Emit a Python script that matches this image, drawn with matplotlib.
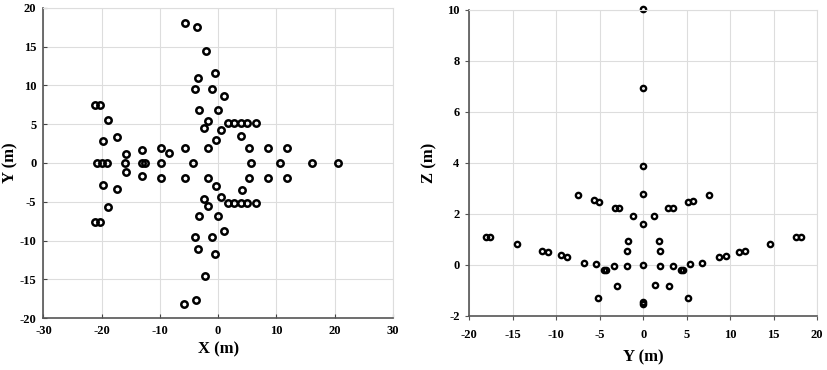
import matplotlib
matplotlib.use("Agg")
from matplotlib import pyplot as plt

# left panel: plan view, X-Y (m)
x_top = [-5.7, -3.7, -2.1, -0.6, -3.4, -4.0, -1.0, 1.0, -3.3, -0.1,
         -1.8, -2.4, 1.7, 2.8, 3.9, 5.0, 6.5, 0.5, -0.3, 4.0,
         -1.7, -5.7, -8.5, -9.8, 5.3, 8.6, 11.8,
         -21.1, -20.2, -18.9, -17.3, -19.8, -15.8, -13.0]
y_top = [18.1, 17.6, 14.5, 11.6, 11.0, 9.5, 9.5, 8.7, 6.8, 6.8,
         5.4, 4.5, 5.1, 5.1, 5.1, 5.1, 5.1, 4.3, 3.0, 3.5,
         1.9, 1.9, 1.3, 1.9, 1.9, 1.9, 1.9,
         7.5, 7.5, 5.6, 3.3, 2.8, 1.2, 1.7]

x_mid = [-20.8, -19.9, -19.0, -16.0, -13.0, -12.6, -9.8, -4.3, 5.6, 10.6, 16.1, 20.6]
y_mid = [0, 0, 0, 0, 0, 0, 0, 0, 0, 0, 0, 0]

x_bot = [-5.8, -3.8, -2.2, -0.6, -3.4, -4.0, -1.0, 1.0, -3.3, -0.1,
         -1.8, -2.4, 1.7, 2.8, 3.9, 5.0, 6.5, 0.5, -0.3, 4.1,
         -1.7, -5.7, -9.8, 5.3, 8.6, 11.8,
         -21.1, -20.2, -18.9, -17.3, -19.8, -15.8, -13.0]
y_bot = [-18.2, -17.7, -14.6, -11.7, -11.1, -9.6, -9.5, -8.8, -6.9, -6.9,
         -5.5, -4.6, -5.2, -5.2, -5.2, -5.2, -5.2, -4.4, -3.0, -3.5,
         -2.0, -2.0, -2.0, -2.0, -2.0, -2.0,
         -7.6, -7.6, -5.7, -3.4, -2.9, -1.2, -1.7]

# right panel: side view, Y-Z (m)
ys = [0, 0, 0, 0, -7.5, 7.6,
      -18.1, -17.6, -14.5, -11.6, -11.0, -9.5, -8.8, -6.8, -5.4, -4.5, -4.3,
      -3.4, -1.9, -0.05, -3.0, -5.2, 0, 0,
      -1.9, -1.7, -1.15, 0, -3.3, -2.8, -5.7, -5.1,
      1.2, 2.9, 3.4, 5.2, 5.75, 1.8, 1.9, 1.9,
      3.4, 4.3, 4.6, 5.4, 6.8, 8.7, 9.5, 11.0, 11.7, 14.6, 17.6, 18.2,
      1.3, 3.0, 5.2]
zs = [10.05, 6.95, 3.87, 2.76, 2.75, 2.75,
      1.08, 1.08, 0.80, 0.52, 0.48, 0.37, 0.29, 0.08, 0.04, -0.21, -0.21,
      -0.05, -0.05, -0.01, -0.85, -1.31, -1.47, -1.53,
      0.52, 0.94, 1.90, 1.61, 2.23, 2.23, 2.52, 2.46,
      1.90, 2.23, 2.23, 2.46, 2.50, 0.94, 0.52, -0.05,
      -0.05, -0.21, -0.21, 0.04, 0.08, 0.29, 0.35, 0.48, 0.52, 0.80, 1.08, 1.08,
      -0.79, -0.85, -1.31]

plt.rcParams['font.family'] = ['Liberation Serif', 'DejaVu Serif']
plt.rcParams['axes.unicode_minus'] = False

fig = plt.figure(figsize=(8.27, 3.70), dpi=100)
ax1 = fig.add_axes([0.0525, 0.1405, 0.4225, 0.838])
ax2 = fig.add_axes([0.5675, 0.147, 0.4205, 0.826])

mk = dict(linestyle='none', marker='o', markerfacecolor='none', markeredgecolor='black', clip_on=False)

ax1.plot(x_top, y_top, ms=4.6, mew=1.8, **mk)
ax1.plot(x_mid, y_mid, ms=4.6, mew=1.8, **mk)
ax1.plot(x_bot, y_bot, ms=4.6, mew=1.8, **mk)
ax1.set_xlim(-30, 30)
ax1.set_ylim(-20, 20)
ax1.set_xticks(range(-30, 31, 10))
ax1.set_yticks(range(-20, 21, 5))
ax1.tick_params(direction='in', length=3, color='#444444', pad=5)
ax1.set_xlabel('X (m)', fontsize=12, fontweight='bold')
ax1.set_ylabel('Y (m)', fontsize=12, fontweight='bold')
ax1.xaxis.set_label_coords(0.5, -0.075)
ax1.yaxis.set_label_coords(-0.072, 0.5)

ax2.plot(ys, zs, ms=3.8, mew=1.7, **mk)
ax2.set_xlim(-20, 20)
ax2.set_ylim(-2, 10)
ax2.set_xticks(range(-20, 21, 5))
ax2.set_yticks(range(-2, 11, 2))
ax2.tick_params(direction='out', length=3, color='#555555', pad=4)
ax2.tick_params(axis='x', pad=7)
ax2.set_xlabel('Y (m)', fontsize=12, fontweight='bold')
ax2.set_ylabel('Z (m)', fontsize=12, fontweight='bold')
ax2.xaxis.set_label_coords(0.5, -0.11)
ax2.yaxis.set_label_coords(-0.092, 0.5)

for ax in (ax1, ax2):
    ax.grid(True, color='#dddddd', linewidth=0.8)
    ax.set_axisbelow(True)
    for lab in ax.get_xticklabels() + ax.get_yticklabels():
        lab.set_fontweight('bold')
        lab.set_fontsize(9)
    ax.spines['left'].set_color('#555555')
    ax.spines['bottom'].set_color('#555555')
    ax.spines['left'].set_linewidth(1.2)
    ax.spines['bottom'].set_linewidth(1.2)
    ax.spines['top'].set_color('#dddddd')
    ax.spines['right'].set_color('#dddddd')

fig.savefig('out.png', dpi=100)
